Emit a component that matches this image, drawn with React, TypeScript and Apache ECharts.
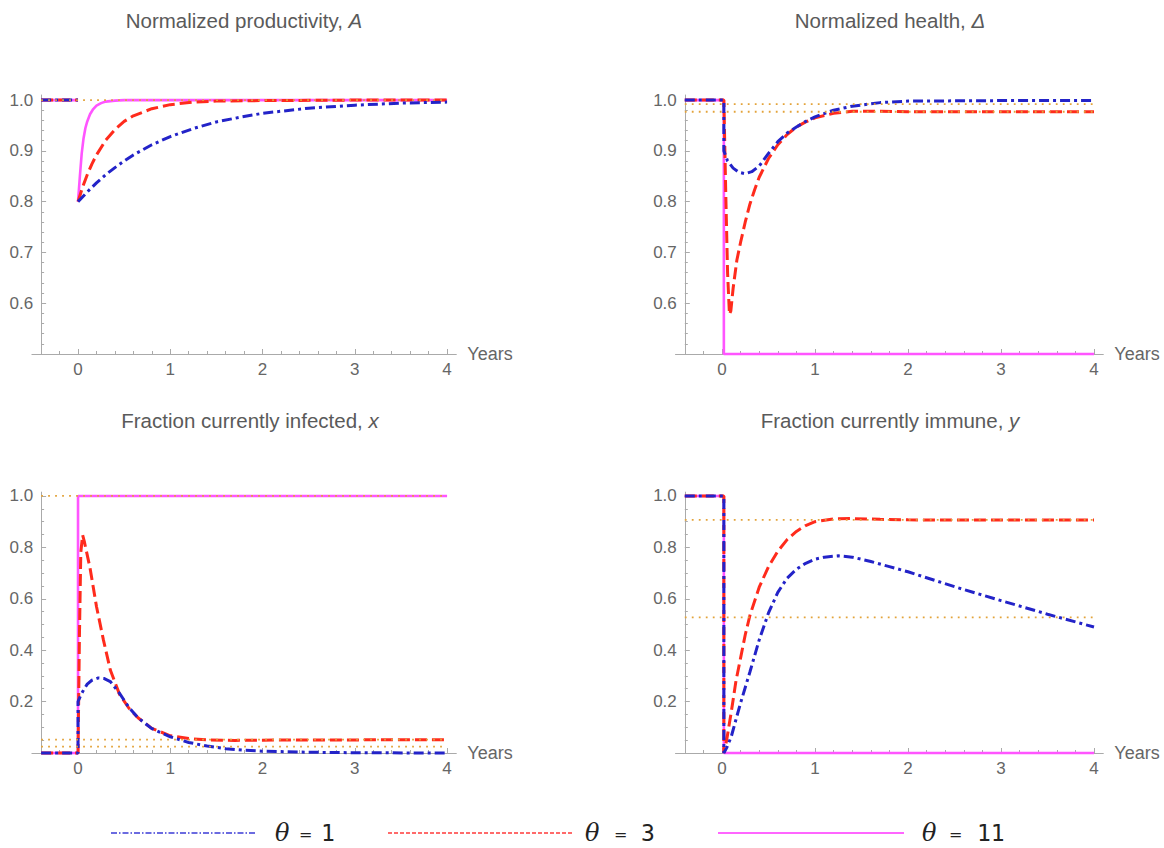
import React, { useEffect, useRef } from "react";
import * as echarts from "echarts";

// ---------- DATA ----------
const X_TICKS = [0, 1, 2, 3, 4];
const THETAS = ["1", "3", "11"];

// Panel A: normalized productivity (pre-shock level, then recovery from t=0)
const A_PRE_T = [-0.4, 0];
const A_PRE_V = [1, 1];
const A_B_T = [0, 0.1, 0.2, 0.3, 0.4, 0.5, 0.6, 0.8, 1.0, 1.25, 1.5, 1.75, 2.0, 2.5, 3.0, 3.5, 4.0];
const A_B_V = [0.8, 0.819, 0.837, 0.853, 0.867, 0.88, 0.892, 0.912, 0.928, 0.944, 0.957, 0.966, 0.974, 0.984, 0.99, 0.994, 0.996];
const A_R_T = [0, 0.05, 0.1, 0.15, 0.2, 0.3, 0.4, 0.5, 0.6, 0.8, 1.0, 1.25, 1.5, 2, 3, 4];
const A_R_V = [0.8, 0.829, 0.853, 0.874, 0.892, 0.921, 0.942, 0.958, 0.969, 0.983, 0.991, 0.996, 0.998, 0.999, 1.0, 1.0];
const A_M_T = [0, 0.02, 0.04, 0.06, 0.08, 0.1, 0.13, 0.16, 0.2, 0.25, 0.3, 0.4, 0.5, 4];
const A_M_V = [0.8, 0.85, 0.895, 0.925, 0.945, 0.958, 0.972, 0.981, 0.989, 0.994, 0.997, 0.999, 1.0, 1.0];
const A_REF = [1.0];

// Panel Δ: normalized health
const D_B_T = [-0.4, 0.02, 0.02, 0.06, 0.12, 0.18, 0.25, 0.32, 0.4, 0.5, 0.6, 0.7, 0.8, 0.9, 1.0, 1.2, 1.4, 1.7, 2.0, 3.0, 4.0];
const D_B_V = [1, 1, 0.9, 0.88, 0.866, 0.858, 0.855, 0.859, 0.87, 0.895, 0.918, 0.935, 0.947, 0.958, 0.967, 0.98, 0.988, 0.995, 0.998, 0.999, 0.999];
const D_R_T = [-0.4, 0.02, 0.04, 0.06, 0.08, 0.095, 0.12, 0.16, 0.2, 0.25, 0.3, 0.35, 0.4, 0.5, 0.6, 0.7, 0.8, 0.9, 1.0, 1.2, 1.4, 1.7, 2.0, 4.0];
const D_R_V = [1, 1, 0.82, 0.66, 0.578, 0.585, 0.63, 0.685, 0.72, 0.76, 0.795, 0.823, 0.848, 0.885, 0.912, 0.932, 0.947, 0.957, 0.965, 0.974, 0.978, 0.978, 0.977, 0.977];
const D_M_T = [-0.4, 0.02, 0.02, 4.0];
const D_M_V = [1, 1, 0.5, 0.5];
const D_REF = [0.992, 0.977];

// Panel x: fraction currently infected
const X_B_T = [-0.4, 0, 0, 0.03, 0.06, 0.1, 0.15, 0.22, 0.28, 0.35, 0.45, 0.55, 0.65, 0.8, 1.0, 1.2, 1.4, 1.6, 1.8, 2.0, 2.5, 3.0, 4.0];
const X_B_V = [0, 0, 0.2, 0.225, 0.245, 0.268, 0.283, 0.292, 0.29, 0.278, 0.232, 0.178, 0.137, 0.095, 0.063, 0.041, 0.027, 0.017, 0.011, 0.007, 0.003, 0.001, 0];
const X_R_T = [-0.4, 0, 0.015, 0.03, 0.05, 0.07, 0.1, 0.13, 0.2, 0.275, 0.35, 0.45, 0.55, 0.65, 0.8, 1.0, 1.2, 1.4, 1.7, 2.0, 3.0, 4.0];
const X_R_V = [0, 0, 0.45, 0.78, 0.848, 0.82, 0.77, 0.72, 0.57, 0.44, 0.323, 0.228, 0.175, 0.137, 0.096, 0.067, 0.056, 0.051, 0.049, 0.05, 0.051, 0.052];
const X_M_T = [-0.4, 0, 0, 4.0];
const X_M_V = [0, 0, 1, 1];
const X_REF = [1.0, 0.052, 0.025];

// Panel y: fraction currently immune
const Y_B_T = [-0.4, 0.02, 0.02, 0.05, 0.1, 0.15, 0.2, 0.3, 0.4, 0.5, 0.6, 0.7, 0.8, 0.9, 1.0, 1.1, 1.25, 1.4, 1.6, 1.8, 2.0, 2.5, 3.0, 3.5, 4.0];
const Y_B_V = [1, 1, 0, 0.02, 0.064, 0.13, 0.195, 0.315, 0.44, 0.545, 0.625, 0.68, 0.715, 0.738, 0.754, 0.762, 0.767, 0.762, 0.745, 0.725, 0.705, 0.647, 0.593, 0.54, 0.49];
const Y_R_T = [-0.4, 0.02, 0.02, 0.05, 0.1, 0.15, 0.2, 0.25, 0.3, 0.4, 0.5, 0.6, 0.7, 0.8, 0.9, 1.0, 1.2, 1.4, 1.7, 2.0, 3.0, 4.0];
const Y_R_V = [1, 1, 0, 0.05, 0.16, 0.28, 0.37, 0.46, 0.535, 0.645, 0.725, 0.785, 0.83, 0.862, 0.885, 0.9, 0.911, 0.912, 0.909, 0.907, 0.906, 0.906];
const Y_M_T = [-0.4, 0.02, 0.02, 4.0];
const Y_M_V = [1, 1, 0, 0];
const Y_REF = [0.907, 0.528];

// ---------- STYLE ----------
const BLUE = "#2323c8";
const RED = "#ff2b1c";
const MAGENTA = "#ff55ff";
const ORANGE = "#e3a33a";
const AXIS = "#aaaaaa";
const LABEL = "#666666";
const FONT = "'Liberation Sans', Arial, Helvetica, sans-serif";

const zip = (t: number[], v: number[]) => t.map((x, i) => [x, v[i]]);

function range(a: number, b: number, step: number) {
  const out: number[] = [];
  const n = Math.round((b - a) / step);
  for (let i = 0; i <= n; i++) out.push(+(a + i * step).toFixed(4));
  return out;
}

const App: React.FC = () => {
  const ref = useRef<HTMLDivElement>(null);

  useEffect(() => {
    if (!ref.current) return;
    const chart = echarts.init(ref.current, undefined, { renderer: "svg" });

    const leftX = { left: 31.9, width: 424.4, off: -9.2 };
    const rightX = { left: 675.5, width: 427.8, off: -9.3 };
    const topY = { top: 95, height: 259, min: 0.5, max: 1.01, major: [0.6, 0.7, 0.8, 0.9, 1.0], minorStep: 0.02 };
    const botY = { top: 492.1, height: 260.9, min: 0, max: 1.015, major: [0.2, 0.4, 0.6, 0.8, 1.0], minorStep: 0.05 };

    const panels = [
      { gx: leftX, gy: topY, refs: A_REF },
      { gx: rightX, gy: topY, refs: D_REF },
      { gx: leftX, gy: botY, refs: X_REF },
      { gx: rightX, gy: botY, refs: Y_REF },
    ];

    const xMinor = range(-0.2, 3.8, 0.2).filter((v) => Math.abs(v - Math.round(v)) > 1e-6);

    const grids: any[] = [];
    const xAxes: any[] = [];
    const yAxes: any[] = [];
    panels.forEach((p, i) => {
      grids.push({ left: p.gx.left, top: p.gy.top, width: p.gx.width, height: p.gy.height, containLabel: false });
      const yMinor = range(p.gy.min + p.gy.minorStep, 1.0, p.gy.minorStep).filter(
        (v) => !p.gy.major.some((m) => Math.abs(m - v) < 1e-6)
      );
      xAxes.push({
        gridIndex: i, type: "value", min: -0.5, max: 4.1, position: "bottom",
        axisLine: { show: true, onZero: false, lineStyle: { color: AXIS, width: 1 } },
        axisTick: { show: true, inside: true, length: 5, customValues: X_TICKS, lineStyle: { color: AXIS } },
        axisLabel: { customValues: X_TICKS, color: LABEL, fontSize: 17, fontFamily: FONT, margin: 7, formatter: (v: number) => String(v) },
        splitLine: { show: false },
        name: "Years", nameLocation: "end", nameGap: 11,
        nameTextStyle: { color: LABEL, fontSize: 18, fontFamily: FONT },
      });
      xAxes.push({
        gridIndex: i, type: "value", min: -0.5, max: 4.1, position: "bottom",
        axisLine: { show: false, onZero: false },
        axisTick: { show: true, inside: true, length: 3, customValues: xMinor, lineStyle: { color: AXIS } },
        axisLabel: { show: false },
        splitLine: { show: false },
      });
      yAxes.push({
        gridIndex: i, type: "value", min: p.gy.min, max: p.gy.max, offset: p.gx.off, position: "left",
        axisLine: { show: true, onZero: false, lineStyle: { color: AXIS, width: 1 } },
        axisTick: { show: true, inside: true, length: 5, customValues: p.gy.major, lineStyle: { color: AXIS } },
        axisLabel: { customValues: p.gy.major, color: LABEL, fontSize: 17, fontFamily: FONT, margin: 8, formatter: (v: number) => v.toFixed(1) },
        splitLine: { show: false },
      });
      yAxes.push({
        gridIndex: i, type: "value", min: p.gy.min, max: p.gy.max, offset: p.gx.off, position: "left",
        axisLine: { show: false, onZero: false },
        axisTick: { show: true, inside: true, length: 3, customValues: yMinor, lineStyle: { color: AXIS } },
        axisLabel: { show: false },
        splitLine: { show: false },
      });
    });

    const blueStyle = { color: BLUE, width: 3, type: [10, 4, 3, 4] as any };
    const redStyle = { color: RED, width: 3, type: [12, 5] as any };
    const magStyle = { color: MAGENTA, width: 2.6, type: "solid" as any };

    const mk = (i: number, name: string, data: any[], lineStyle: any, z = 2) => ({
      type: "line", name, xAxisIndex: i * 2, yAxisIndex: i * 2, data,
      showSymbol: false, symbol: "none", clip: false, lineStyle, z, silent: true,
      connectNulls: false,
    });

    const pre = zip(A_PRE_T, A_PRE_V);
    const gap = [[0, null]];
    const seriesData = [
      { m: [...pre, ...gap, ...zip(A_M_T, A_M_V)], r: [...pre, ...gap, ...zip(A_R_T, A_R_V)], b: [...pre, ...gap, ...zip(A_B_T, A_B_V)] },
      { m: zip(D_M_T, D_M_V), r: zip(D_R_T, D_R_V), b: zip(D_B_T, D_B_V) },
      { m: zip(X_M_T, X_M_V), r: zip(X_R_T, X_R_V), b: zip(X_B_T, X_B_V) },
      { m: zip(Y_M_T, Y_M_V), r: zip(Y_R_T, Y_R_V), b: zip(Y_B_T, Y_B_V) },
    ];

    const series: any[] = [];
    seriesData.forEach((d, i) => {
      series.push(mk(i, "θ = 11", d.m, magStyle, 2));
      series.push(mk(i, "θ = 3", d.r, redStyle, 3));
      series.push(mk(i, "θ = 1", d.b, blueStyle, 4));
      panels[i].refs.forEach((r) => {
        series.push(mk(i, "ref", [[-0.4, r], [4.0, r]], { color: ORANGE, width: 1.8, type: [1.8, 5.2] }, 5));
      });
    });

    const TS = 20.5;
    const titleRich = {
      n: { fontFamily: FONT, fontSize: TS, fill: "#5a5a5a", color: "#5a5a5a" },
      i: { fontFamily: FONT, fontSize: TS, fontStyle: "italic", fill: "#5a5a5a", color: "#5a5a5a" },
    };
    const titles = [
      { x: 244, y: 20, t: "{n|Normalized productivity, }{i|A}" },
      { x: 890, y: 20, t: "{n|Normalized health, }{i|Δ}" },
      { x: 250, y: 420, t: "{n|Fraction currently infected, }{i|x}" },
      { x: 890, y: 420, t: "{n|Fraction currently immune, }{i|y}" },
    ];

    const legendY = 833;
    const legendItems = [
      { x1: 111, x2: 256, color: "#3b3bd6", width: 1.3, dash: [6, 2, 1.5, 2], tx: 275, num: THETAS[0], eqx: 299, nx: 321 },
      { x1: 388, x2: 572, color: "#ff3a3a", width: 1.5, dash: [4, 2], tx: 585, num: THETAS[1], eqx: 614, nx: 641 },
      { x1: 718, x2: 904, color: "#ff66ff", width: 2.2, dash: null, tx: 922, num: THETAS[2], eqx: 949, nx: 977 },
    ];

    const graphic: any[] = [];
    titles.forEach((t) => {
      graphic.push({
        type: "text", x: t.x, y: t.y, silent: true,
        style: { text: t.t, rich: titleRich, align: "center", verticalAlign: "middle", fill: "#5a5a5a", font: `${TS}px ${FONT}` },
      });
    });
    legendItems.forEach((l) => {
      graphic.push({
        type: "line", silent: true,
        shape: { x1: l.x1, y1: legendY, x2: l.x2, y2: legendY },
        style: { stroke: l.color, lineWidth: l.width, lineDash: l.dash || undefined },
      });
      graphic.push({
        type: "text", x: l.tx, y: legendY, silent: true,
        style: { text: "θ", fill: "#222", font: `italic 24px 'DejaVu Serif', serif`, verticalAlign: "middle", align: "left" },
      });
      graphic.push({
        type: "text", x: l.eqx, y: legendY + 1, silent: true,
        style: { text: "=", fill: "#222", font: `16px 'DejaVu Sans', sans-serif`, verticalAlign: "middle", align: "left" },
      });
      graphic.push({
        type: "text", x: l.nx, y: legendY, silent: true,
        style: { text: l.num, fill: "#222", font: `23px 'DejaVu Sans Mono', monospace`, verticalAlign: "middle", align: "left" },
      });
    });

    chart.setOption({
      animation: false,
      backgroundColor: "#ffffff",
      grid: grids,
      xAxis: xAxes,
      yAxis: yAxes,
      series,
      graphic,
    });

    return () => chart.dispose();
  }, []);

  return <div ref={ref} style={{ position: "fixed", left: 0, top: 0, width: 1164, height: 848 }} />;
};

export default App;
